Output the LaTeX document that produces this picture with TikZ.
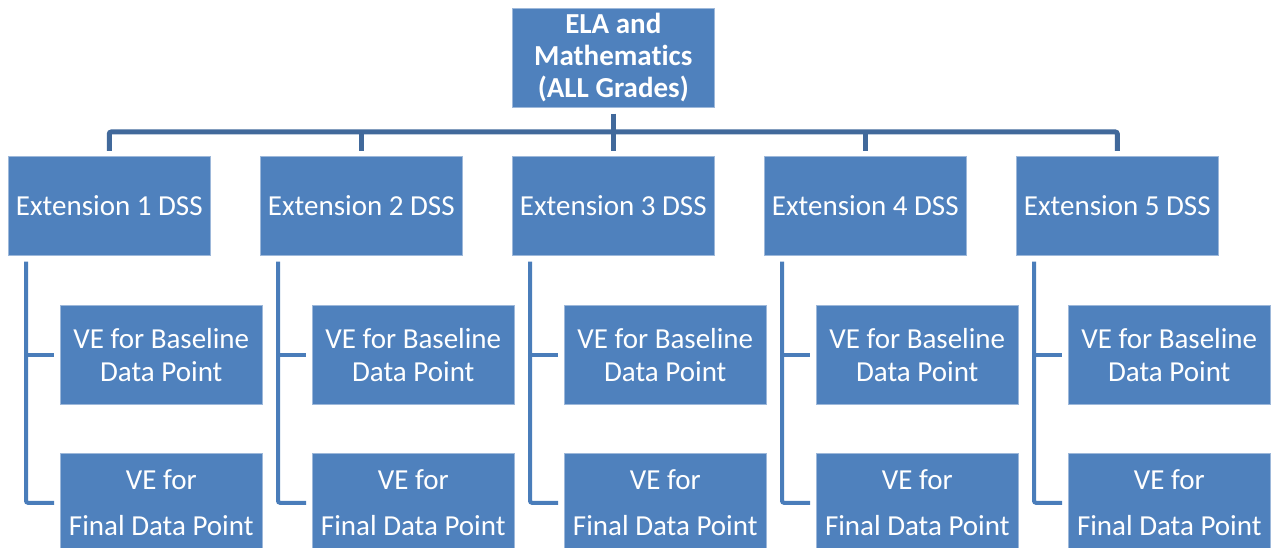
\documentclass[tikz,border=0pt]{standalone}
\usepackage{fontspec}
\setmainfont{Carlito}[Ligatures=NoCommon]
\definecolor{boxfill}{HTML}{4F81BD}
\definecolor{boxedge}{HTML}{9DB8DA}
\definecolor{trunk}{HTML}{41699B}
\definecolor{branch}{HTML}{4A7DBA}
\begin{document}
\begin{tikzpicture}[x=1pt,y=-1pt,
  box/.style={fill=boxfill, draw=boxedge, line width=0.6pt, text=white,
    minimum width=202pt, minimum height=99pt, inner sep=0pt, align=center,
    anchor=north west, font=\fontsize{29}{32.5}\selectfont},
  topbox/.style={box, font=\bfseries\fontsize{29}{32}\selectfont},
  trunkline/.style={draw=trunk, line width=5pt},
  branchline/.style={draw=branch, line width=4pt, rounded corners=2pt}]
\useasboundingbox (0,0) rectangle (1274,548);

% root
\node[topbox] (root) at (512,8) {ELA and\\Mathematics\\(ALL Grades)};
\coordinate (bar) at (613,132);

\foreach \i in {1,...,5}{
  \pgfmathsetmacro{\xl}{8+252*(\i-1)}
  \node[box] (ext\i) at (\xl,156) {Extension \i{} DSS};
  \node[box] (base\i) at (\xl+52,305) {VE for Baseline\\Data Point};
  \node[box] (fin\i) at (\xl+52,453) {VE for\\[13pt]Final Data Point};
  % children of each extension
  \draw[branchline, shorten <=6pt, shorten >=6pt]
    ([xshift=18pt]ext\i.south west) |- (fin\i.west);
  \draw[branchline, shorten >=6pt]
    ([xshift=18pt]ext\i.south west |- base\i.west) -- (base\i.west);
}

% tree from the root to the extensions
\draw[trunkline, shorten <=6pt, shorten >=5pt] (root.south) -- (ext3.north);
\draw[trunkline, shorten <=5pt, shorten >=5pt, rounded corners=2pt]
  (ext1.north) -- (ext1.north |- bar) -- (ext5.north |- bar) -- (ext5.north);
\foreach \i in {2,4}{
  \draw[trunkline, shorten >=5pt] (ext\i.north |- bar) -- (ext\i.north);
}
\end{tikzpicture}
\end{document}
